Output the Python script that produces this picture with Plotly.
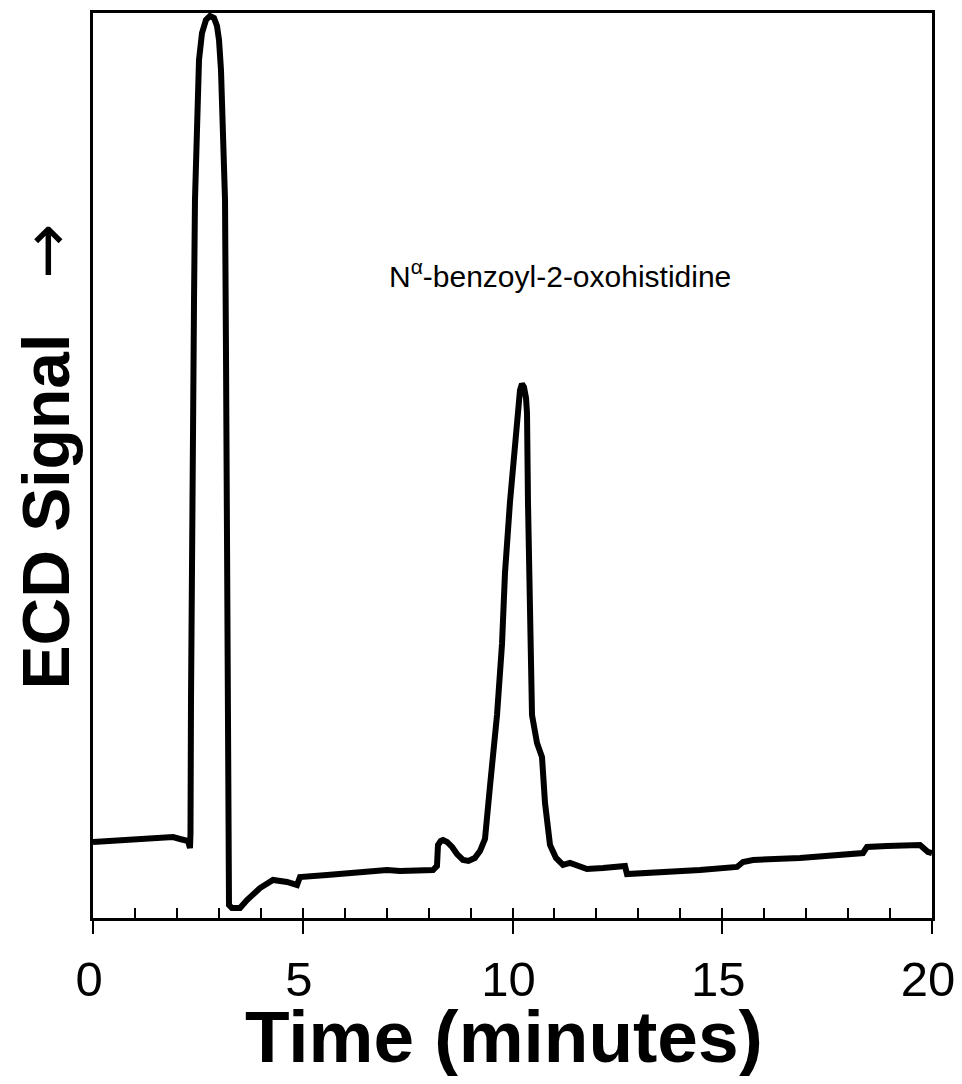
import plotly.graph_objects as go

# Chromatogram trace (time in minutes, signal in arbitrary units 0-100)
time_min = [0.000, 0.882, 1.907, 2.074, 2.265, 2.312, 2.324, 2.336, 2.360, 2.408,
            2.431, 2.479, 2.527, 2.598, 2.694, 2.789, 2.884, 2.956, 3.004, 3.051,
            3.099, 3.147, 3.170, 3.194, 3.218, 3.242, 3.313,
            3.504, 3.671, 3.981, 4.291, 4.625, 4.863, 4.934, 5.578, 6.365, 7.008,
            7.318, 8.105, 8.200, 8.224, 8.290, 8.343, 8.440, 8.560, 8.677, 8.820,
            8.950, 9.100, 9.225, 9.344, 9.464, 9.631, 9.750, 9.821, 9.940, 10.060,
            10.131, 10.179, 10.226, 10.274, 10.322, 10.346, 10.369, 10.417, 10.465, 10.584,
            10.703, 10.775, 10.894, 11.037, 11.204, 11.371, 11.776, 12.157, 12.682, 12.729,
            13.349, 14.470, 15.352, 15.495, 15.733, 16.853, 18.355, 18.451, 18.927, 19.714,
            19.905, 20.000]
ecd_signal = [8.40, 8.62, 8.95, 8.73, 8.51, 7.73, 9.39, 24.09, 49.83, 68.29,
              79.34, 89.28, 94.81, 97.79, 99.23, 99.67, 99.45, 98.56, 97.02, 93.70,
              88.18, 79.34, 62.76, 46.19, 13.04, 1.44, 1.10,
              1.10, 1.99, 3.31, 4.20, 3.98, 3.65, 4.53, 4.75, 5.08, 5.30,
              5.19, 5.30, 5.75, 8.07, 8.51, 8.62, 8.40, 7.85, 7.07, 6.41,
              6.30, 6.63, 7.40, 8.73, 14.59, 22.43, 30.28, 38.12, 45.97, 51.82,
              56.91, 58.34, 59.01, 58.67, 57.46, 55.80, 45.97, 34.25, 22.43, 19.34,
              17.79, 12.71, 8.07, 6.63, 5.86, 6.08, 5.41, 5.52, 5.75, 4.86,
              4.97, 5.30, 5.64, 6.19, 6.41, 6.63, 7.18, 7.85, 7.96, 8.07,
              7.29, 7.18]

x_major_ticks = [0, 5, 10, 15, 20]
x_tick_labels = ["0", "5", "10", "15", "20"]
minute_ticks = list(range(0, 21))
inner_tick_minutes = list(range(1, 20))   # minute ticks that also cross into the plot

peak_label = "N<sup>α</sup>-benzoyl-2-oxohistidine"
peak_label_pos = (11.13, 71.2)

x_title = "<b>Time (minutes)</b>"
y_title = "<b>ECD Signal</b>   <span style='font-family:DejaVu Sans'>→</span>"

FONT = "Liberation Sans, Arial, sans-serif"

label_for = dict(zip(x_major_ticks, x_tick_labels))
all_tick_text = [label_for.get(m, "") for m in minute_ticks]

fig = go.Figure()
fig.add_trace(go.Scatter(
    x=time_min, y=ecd_signal, mode="lines",
    line=dict(color="black", width=6),
    hoverinfo="skip", showlegend=False,
))

fig.add_annotation(
    x=peak_label_pos[0], y=peak_label_pos[1], text=peak_label, showarrow=False,
    font=dict(family=FONT, size=30, color="black"),
)
fig.add_annotation(
    xref="paper", yref="paper", x=0.49, y=-0.131, text=x_title, showarrow=False,
    xanchor="center", yanchor="middle",
    font=dict(family=FONT, size=73, color="black"),
)
fig.add_annotation(
    xref="paper", yref="paper", x=-0.056, y=0.51, text=y_title, showarrow=False,
    textangle=-90, xanchor="center", yanchor="middle",
    font=dict(family=FONT, size=66, color="black"),
)

fig.update_layout(
    width=954, height=1068,
    margin=dict(l=85, r=30, t=5, b=158, autoexpand=False),
    paper_bgcolor="white", plot_bgcolor="white",
    font=dict(family=FONT, color="black"),
    xaxis=dict(
        range=[0, 20], tickmode="array", tickvals=minute_ticks, ticktext=all_tick_text,
        ticks="outside", ticklen=13, tickwidth=2, tickcolor="black",
        minor=dict(tickmode="array", tickvals=inner_tick_minutes, ticks="inside",
                   ticklen=10, tickwidth=2, tickcolor="black"),
        ticklabelstandoff=3, ticklabelshift=-4,
        tickfont=dict(family=FONT, size=49, color="black"),
        showline=True, linecolor="black", linewidth=3, mirror=True,
        showgrid=False, zeroline=False, automargin=False,
    ),
    yaxis=dict(
        range=[0, 100], showticklabels=False, ticks="",
        showline=True, linecolor="black", linewidth=3, mirror=True,
        showgrid=False, zeroline=False, automargin=False,
    ),
)

fig.write_html("out.html")
